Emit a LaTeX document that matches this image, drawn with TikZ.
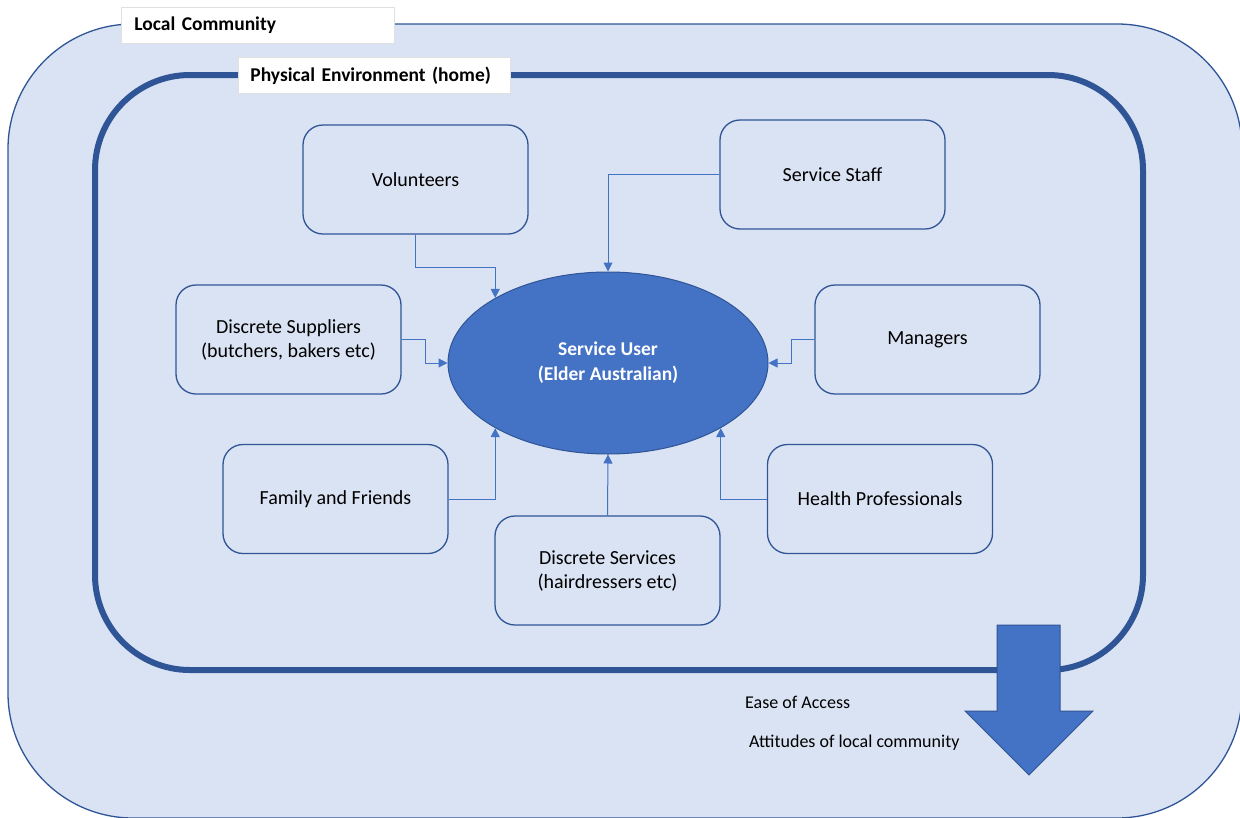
\documentclass[tikz,border=0pt]{standalone}
\usepackage{fontspec}
\setmainfont{Carlito}
\usetikzlibrary{shapes.geometric,arrows.meta}
\definecolor{fillblue}{HTML}{DAE3F3}
\definecolor{lineblue}{HTML}{2F5597}
\definecolor{midblue}{HTML}{4472C4}
\tikzset{
  actor/.style={rectangle,draw=lineblue,line width=1.3pt,fill=fillblue,rounded corners=20pt,
    minimum width=225pt,minimum height=109pt,align=center,font=\fontsize{20}{24}\selectfont},
  link/.style={draw=midblue,line width=1pt,-{Triangle[width=9pt,length=9pt]}},
  tag/.style={rectangle,fill=white,draw=black!12,line width=0.8pt,anchor=north west,
    minimum height=36pt,inner xsep=13pt,align=left,font=\fontsize{19.5}{23}\selectfont\bfseries}
}

\begin{document}
\begin{tikzpicture}[x=1pt,y=-1pt]
\useasboundingbox (0,0) rectangle (1240,817);

\draw[draw=lineblue,line width=1.3pt,fill=fillblue,rounded corners=125pt] (8,24) rectangle (1242,818);
\draw[draw=lineblue,line width=6pt,rounded corners=95pt] (95,75) rectangle (1143,670);

\node[tag,text width=247pt] (community) at (121,7) {Local Community};
\node[tag,text width=248pt,inner xsep=12pt] (home) at (238,57) {Physical Environment (home)};

\node[actor] (vol) at (415.5,179.5) {Volunteers};
\node[actor] (staff) at (832.5,174.5) {Service Staff};
\node[actor] (sup) at (288.5,339.5) {Discrete Suppliers\\(butchers, bakers etc)};
\node[actor] (man) at (927.5,339.5) {Managers};
\node[actor] (fam) at (335.5,499) {Family and Friends};
\node[actor] (hp) at (880,499) {Health Professionals};
\node[actor] (ds) at (607.5,570.5) {Discrete Services\\(hairdressers etc)};

\node[ellipse,draw=lineblue,line width=1pt,fill=midblue,minimum width=320pt,minimum height=182pt,
  text=white,align=center,font=\fontsize{19.5}{25}\selectfont\bfseries] (su) at (608,363)
  {Service User\\(Elder Australian)};

\draw[link] (vol.south) -- ++(0,33) -| (su.150);
\draw[link] (staff.west) -| (su.north);
\draw[link] (sup.east) -- ++(24,0) |- (su.west);
\draw[link] (man.west) -- ++(-23,0) |- (su.east);
\draw[link] (fam.east) -| (su.210);
\draw[link] (hp.west) -| (su.330);
\draw[link] (ds.north) -- (su.south);

\draw[draw=lineblue,line width=1pt,fill=midblue] (997,625) -- (1060,625) -- (1060,711) -- (1093,711)
  -- (1029,775) -- (965,711) -- (997,711) -- cycle;

\node[anchor=west,font=\fontsize{18}{21}\selectfont,inner sep=0pt] (access) at (745,702) {Ease of Access};
\node[anchor=west,font=\fontsize{18}{21}\selectfont,inner sep=0pt] (attitude) at (749,743) {Attitudes of local community};
\end{tikzpicture}
\end{document}
